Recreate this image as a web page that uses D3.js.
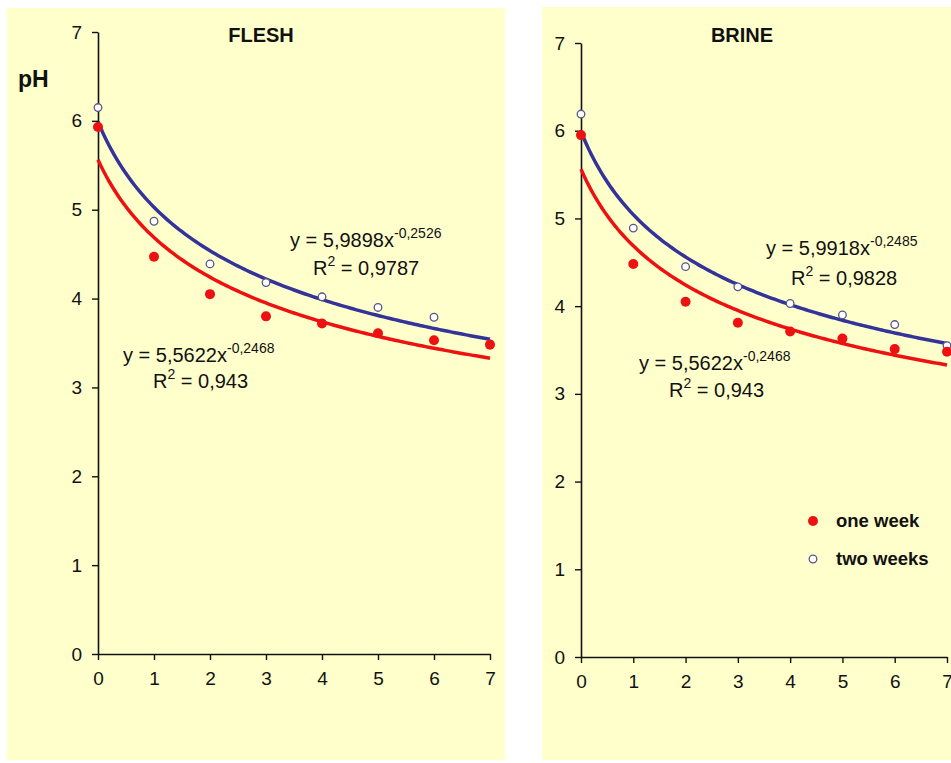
<!DOCTYPE html>
<html>
<head>
<meta charset="utf-8">
<script src="https://cdn.jsdelivr.net/npm/d3@7"></script>
<style>
  body { margin: 0; background: #ffffff; }
  svg { display: block; font-family: "Liberation Sans", Arial, sans-serif; }
</style>
</head>
<body>
<svg id="chart" width="951" height="763"></svg>
<script>
// weeks on the x axis
var weeks = [0, 1, 2, 3, 4, 5, 6, 7];
var yTicks = [0, 1, 2, 3, 4, 5, 6, 7];

// pH readings
var fleshOneWeek  = [5.93, 4.47, 4.05, 3.80, 3.72, 3.61, 3.53, 3.48];
var fleshTwoWeeks = [6.15, 4.87, 4.39, 4.18, 4.02, 3.90, 3.79, 3.49];
var brineOneWeek  = [5.95, 4.48, 4.05, 3.81, 3.71, 3.63, 3.51, 3.48];
var brineTwoWeeks = [6.19, 4.89, 4.45, 4.22, 4.03, 3.90, 3.79, 3.55];

// power trendlines y = a * x^b (x = category index + 1), as printed on the chart
var fleshFitA = [5.5622, 5.9898];
var fleshFitB = [-0.2468, -0.2526];
var fleshR2   = ["0,943", "0,9787"];
var brineFitA = [5.5622, 5.9918];
var brineFitB = [-0.2468, -0.2485];
var brineR2   = ["0,943", "0,9828"];

var seriesNames = ["one week", "two weeks"];

var svg = d3.select("#chart");

function eqLabel(g, x, y, a, b) {
    var t = g.append("text").attr("x", x).attr("y", y)
        .style("font-size", "20px").attr("fill", "#111");
    t.append("tspan").text("y = " + String(a).replace(".", ",") + "x");
    t.append("tspan").attr("dy", -9).style("font-size", "14px")
        .text(String(b).replace(".", ","));
}

function r2Label(g, x, y, r2) {
    var t = g.append("text").attr("x", x).attr("y", y)
        .style("font-size", "20px").attr("fill", "#111");
    t.append("tspan").text("R");
    t.append("tspan").attr("dy", -9).style("font-size", "14px").text("2");
    t.append("tspan").attr("dy", 9).text(" = " + r2);
}

function drawPanel(p) {
    var g = svg.append("g");

    // panel background
    g.append("rect")
        .attr("x", p.box[0]).attr("y", p.box[1])
        .attr("width", p.box[2]).attr("height", p.box[3])
        .attr("fill", "#ffffcc");

    var x = d3.scaleLinear().domain([0, 7]).range(p.xr);
    var y = d3.scaleLinear().domain([0, 7]).range(p.yr);

    var xAxis = g.append("g")
        .attr("transform", "translate(0," + p.yr[0] + ")")
        .call(d3.axisBottom(x).tickValues(weeks).tickFormat(d3.format("d"))
            .tickSize(6).tickSizeOuter(0).tickPadding(12));
    var yAxis = g.append("g")
        .attr("transform", "translate(" + p.xr[0] + ",0)")
        .call(d3.axisLeft(y).tickValues(yTicks).tickFormat(d3.format("d"))
            .tickSize(6).tickSizeOuter(0).tickPadding(10));

    [xAxis, yAxis].forEach(function (ax) {
        ax.select(".domain").attr("stroke", "#111").attr("stroke-width", 1.6);
        ax.selectAll(".tick line").attr("stroke", "#111").attr("stroke-width", 1.4);
        ax.selectAll(".tick text").attr("fill", "#111")
            .style("font-size", "19px").style("font-family", "Liberation Sans, Arial, sans-serif");
    });

    // title
    g.append("text")
        .attr("x", p.titleX).attr("y", 42)
        .attr("text-anchor", "middle")
        .style("font-size", "20px").style("font-weight", "bold")
        .attr("fill", "#111")
        .text(p.title);

    // trendlines
    var colors = ["#ee1111", "#333399"];
    var xs = d3.range(0, 7.001, 0.05);
    p.fitA.forEach(function (a, i) {
        var line = d3.line()
            .x(function (d) { return x(d); })
            .y(function (d) { return y(a * Math.pow(d + 1, p.fitB[i])); });
        g.append("path")
            .datum(xs)
            .attr("d", line)
            .attr("fill", "none")
            .attr("stroke", colors[i])
            .attr("stroke-width", 3.5);
    });

    // two weeks: open circles
    g.selectAll(".two")
        .data(p.two)
        .enter().append("circle")
        .attr("class", "two")
        .attr("cx", function (d, i) { return x(weeks[i]); })
        .attr("cy", function (d) { return y(d); })
        .attr("r", 3.8)
        .attr("fill", "#ffffff")
        .attr("stroke", "#55558f")
        .attr("stroke-width", 1.3);

    // one week: red dots
    g.selectAll(".one")
        .data(p.one)
        .enter().append("circle")
        .attr("class", "one")
        .attr("cx", function (d, i) { return x(weeks[i]); })
        .attr("cy", function (d) { return y(d); })
        .attr("r", 5)
        .attr("fill", "#ee1111");

    // equation labels
    eqLabel(g, p.eq[1][0], p.eq[1][1], p.fitA[1], p.fitB[1]);
    r2Label(g, p.eq[1][2], p.eq[1][3], p.r2[1]);
    eqLabel(g, p.eq[0][0], p.eq[0][1], p.fitA[0], p.fitB[0]);
    r2Label(g, p.eq[0][2], p.eq[0][3], p.r2[0]);

    return g;
}

drawPanel({
    box: [7, 8, 498, 752],
    xr: [98, 490], yr: [654, 32],
    title: "FLESH", titleX: 261,
    one: fleshOneWeek, two: fleshTwoWeeks,
    fitA: fleshFitA, fitB: fleshFitB, r2: fleshR2,
    eq: [[123, 362, 153, 388], [290, 247, 313, 275]]
});

var right = drawPanel({
    box: [542, 7, 409, 753],
    xr: [581, 947], yr: [657, 43],
    title: "BRINE", titleX: 742,
    one: brineOneWeek, two: brineTwoWeeks,
    fitA: brineFitA, fitB: brineFitB, r2: brineR2,
    eq: [[639, 370, 669, 397], [766, 255, 791, 285]]
});

// pH label on the left panel
svg.append("text")
    .attr("x", 18).attr("y", 87)
    .style("font-size", "23px").style("font-weight", "bold")
    .attr("fill", "#111")
    .text("pH");

// legend in the right panel
var legend = right.append("g").attr("transform", "translate(813,521)");
seriesNames.forEach(function (name, i) {
    var row = legend.append("g").attr("transform", "translate(0," + (i * 38) + ")");
    if (i === 0) {
        row.append("circle").attr("r", 5).attr("fill", "#ee1111");
    } else {
        row.append("circle").attr("r", 3.8).attr("fill", "#ffffff")
            .attr("stroke", "#55558f").attr("stroke-width", 1.3);
    }
    row.append("text")
        .attr("x", 23).attr("y", 6)
        .style("font-size", "18.5px").style("font-weight", "bold")
        .attr("fill", "#111")
        .text(name);
});
</script>
</body>
</html>
